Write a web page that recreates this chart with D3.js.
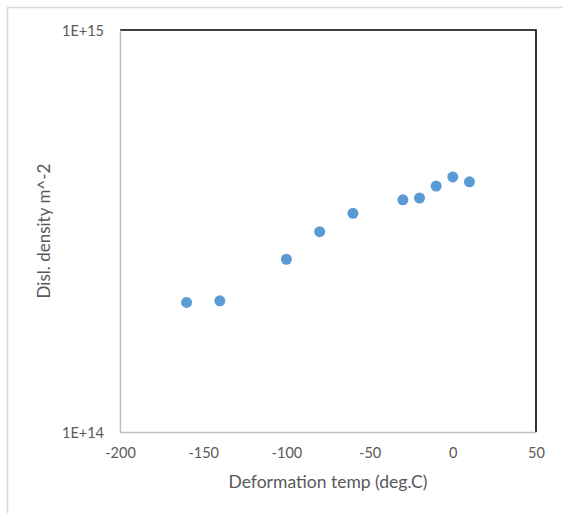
<!DOCTYPE html>
<html>
<head>
<meta charset="utf-8">
<script src="https://cdn.jsdelivr.net/npm/d3@7"></script>
<style>
  html, body { margin: 0; padding: 0; background: #fff; }
  svg { display: block; font-family: Lato, "Open Sans", sans-serif; }
</style>
</head>
<body>
<svg id="chart" width="563" height="513"></svg>
<script>
// Deformation temperature (deg.C) and measured dislocation density (m^-2)
const temps = [-160, -140, -100, -80, -60, -30, -20, -10, 0, 10];
const densities = [2.10e14, 2.12e14, 2.69e14, 3.15e14, 3.50e14, 3.78e14, 3.82e14, 4.09e14, 4.31e14, 4.19e14];
const xTicks = [-200, -150, -100, -50, 0, 50];
const yTicks = [1e14, 1e15];
const xTitle = "Deformation temp (deg.C)";
const yTitle = "Disl. density m^-2";

const svg = d3.select("#chart");
const plot = { left: 120, top: 30, right: 536, bottom: 432 };

// Outer chart frame
svg.append("rect")
  .attr("x", 7.5).attr("y", 7.5)
  .attr("width", 600).attr("height", 600)
  .attr("fill", "#fff")
  .attr("stroke", "#d9d9d9").attr("stroke-width", 1.5);

const x = d3.scaleLinear().domain([-200, 50]).range([plot.left, plot.right]);
const y = d3.scaleLog().domain([1e14, 1e15]).range([plot.bottom, plot.top]);

// Plot-area border: top and right edges in black
svg.append("path")
  .attr("d", `M${plot.left},${plot.top}H${plot.right}V${plot.bottom}`)
  .attr("fill", "none").attr("stroke", "#000").attr("stroke-width", 1.6);

// Axes
const xAxis = svg.append("g")
  .attr("transform", `translate(0,${plot.bottom})`)
  .call(d3.axisBottom(x).tickValues(xTicks).tickSize(0).tickPadding(16));
const yAxis = svg.append("g")
  .attr("transform", `translate(${plot.left},0)`)
  .call(d3.axisLeft(y).tickValues(yTicks).tickSize(0).tickPadding(16)
    .tickFormat(d => "1E+" + Math.round(Math.log10(d))));

[xAxis, yAxis].forEach(g => {
  g.select(".domain").attr("stroke", "#bfbfbf").attr("stroke-width", 1.5);
  g.selectAll("text").attr("fill", "#595959").attr("font-size", 14.5).attr("font-family", "Lato, sans-serif");
});
xAxis.selectAll("text").attr("dy", "0.71em").attr("y", 16)
  .text(d => String(d));
yAxis.selectAll("text").attr("dy", "0.35em");

// Data points
svg.append("g").selectAll("circle")
  .data(temps.map((t, i) => ({ t, v: densities[i] })))
  .join("circle")
  .attr("cx", d => x(d.t))
  .attr("cy", d => y(d.v))
  .attr("r", 5.5)
  .attr("fill", "#5b9bd5");

// Axis titles
svg.append("text")
  .attr("x", (plot.left + plot.right) / 2 + 0).attr("y", 488)
  .attr("text-anchor", "middle")
  .attr("fill", "#595959").attr("font-size", 17.5)
  .text(xTitle);

svg.append("text")
  .attr("transform", `translate(50,${(plot.top + plot.bottom) / 2}) rotate(-90)`)
  .attr("text-anchor", "middle")
  .attr("fill", "#595959").attr("font-size", 17)
  .text(yTitle);
</script>
</body>
</html>
